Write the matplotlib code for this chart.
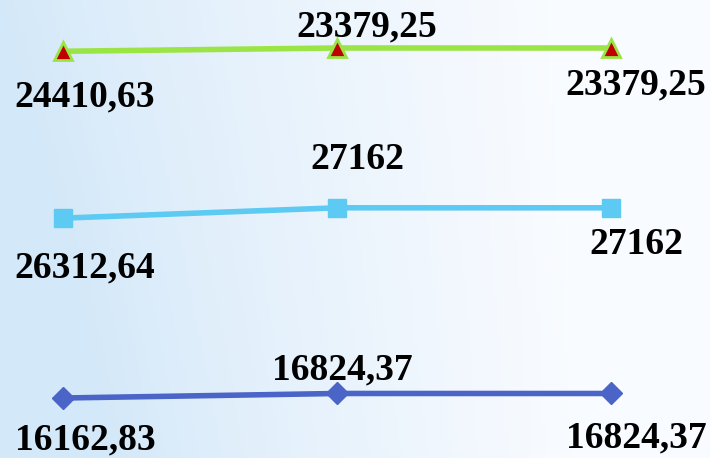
import matplotlib.pyplot as plt
import numpy as np

# categorias (sem rótulos no eixo)
categorias = [0, 1, 2]

# valores das séries (gráfico de linhas empilhadas)
serie_inferior = [16162.83, 16824.37, 16824.37]
serie_meio = [26312.64, 27162, 27162]
serie_topo = [24410.63, 23379.25, 23379.25]

rotulos_inferior = ['16162,83', '16824,37', '16824,37']
rotulos_meio = ['26312,64', '27162', '27162']
rotulos_topo = ['24410,63', '23379,25', '23379,25']


def fundo(ax):
    # degradê azul claro -> branco
    w, h = 200, 100
    xx = np.linspace(0, 1, w)
    yy = np.linspace(0, 1, h)
    X, Y = np.meshgrid(xx, yy)
    t = np.clip(1.3 * X - 0.25 * (1 - Y) * (1 - X), 0, 1) ** 0.8
    c0 = np.array([0.83, 0.91, 0.975])
    c1 = np.array([0.975, 0.985, 1.0])
    img = c0[None, None, :] * (1 - t[..., None]) + c1[None, None, :] * t[..., None]
    ax.imshow(img, extent=[0, 1, 0, 1], transform=ax.transAxes, aspect='auto',
              origin='lower', zorder=0)


fig = plt.figure(figsize=(7.10, 4.58), dpi=100)
ax = fig.add_axes([0, 0, 1, 1])
fundo(ax)

x = np.array(categorias)
y1 = np.array(serie_inferior)
y2 = y1 + np.array(serie_meio)
y3 = y2 + np.array(serie_topo)

ax.plot(x, y1, color='#4a64c8', linewidth=4, marker='D', markersize=11,
        markerfacecolor='#4a64c8', markeredgecolor='#4a64c8', zorder=3)
ax.plot(x, y2, color='#5ccaf2', linewidth=4, marker='s', markersize=13,
        markerfacecolor='#5ccaf2', markeredgecolor='#5ccaf2', zorder=3)
ax.plot(x, y3, color='#9be445', linewidth=4, marker='^', markersize=13,
        markerfacecolor='#c00000', markeredgecolor='#9be445', markeredgewidth=2, zorder=3)

fonte = dict(fontsize=27, fontweight='bold', family='Liberation Serif',
             color='black', ha='center', va='center', zorder=4)

# deslocamentos dos rótulos em pixels (esquerda, meio, direita)
desloc = {
    'topo': [(22, -46), (30, 21), (25, -37)],
    'meio': [(22, -50), (20, 48), (25, -37)],
    'inferior': [(22, -42), (5, 24), (25, -44)],
}

for nome, ys, rots in [('topo', y3, rotulos_topo), ('meio', y2, rotulos_meio),
                       ('inferior', y1, rotulos_inferior)]:
    for i in range(len(x)):
        ax.annotate(rots[i], (x[i], ys[i]), xytext=desloc[nome][i],
                    textcoords='offset pixels', **fonte)

ax.set_xlim(-0.23, 2.361)
ax.set_ylim(7387, 74386)
ax.axis('off')

plt.savefig('out.png', dpi=100)
plt.close()
